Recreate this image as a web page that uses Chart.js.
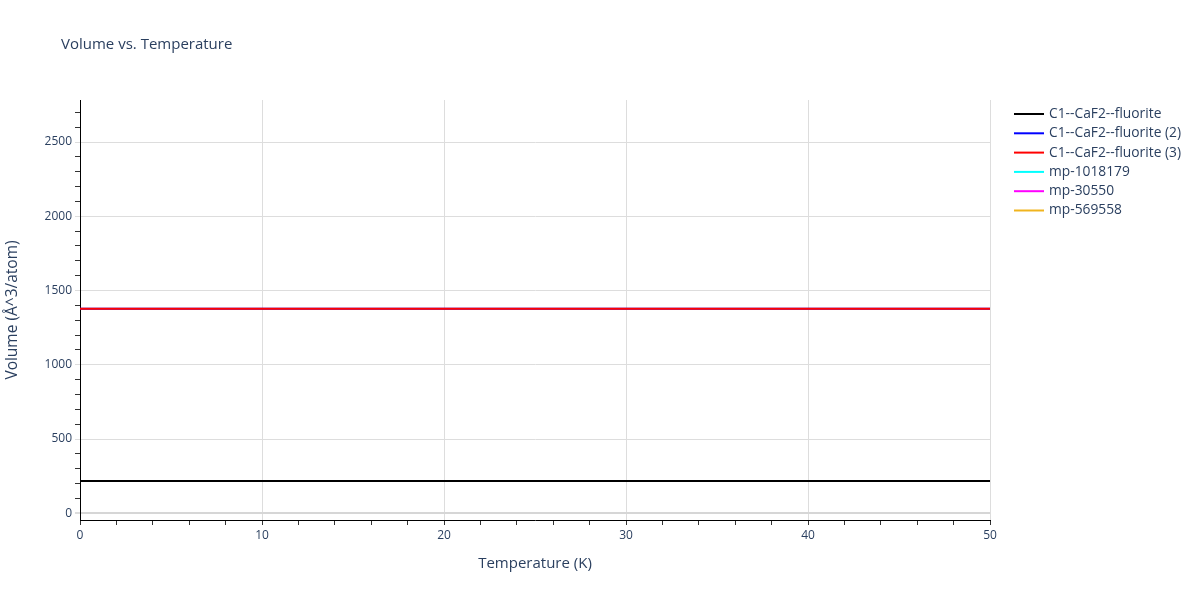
<!DOCTYPE html>
<html>
<head>
<meta charset="utf-8">
<script src="https://cdn.jsdelivr.net/npm/chart.js@4/dist/chart.umd.min.js"></script>
<style>
  body { margin: 0; background: #fff; }
  #wrap { width: 1200px; height: 600px; }
</style>
</head>
<body>
<div id="wrap"><canvas id="myChart" width="1200" height="600"></canvas></div>
<script>
const ctx = document.getElementById('myChart')

// temperatures (K) and volumes (Å^3/atom)
const temperaturas = [0, 5, 10, 15, 20, 25, 30, 35, 40, 45, 50]
const fluorita = [218, 218, 218, 218, 218, 218, 218, 218, 218, 218, 218]
const fluorita2 = [1377, 1377, 1377, 1377, 1377, 1377, 1377, 1377, 1377, 1377, 1377]
const fluorita3 = [1377, 1377, 1377, 1377, 1377, 1377, 1377, 1377, 1377, 1377, 1377]
const mp1018179 = []
const mp30550 = []
const mp569558 = []

const nombres = ['C1--CaF2--fluorite', 'C1--CaF2--fluorite (2)', 'C1--CaF2--fluorite (3)', 'mp-1018179', 'mp-30550', 'mp-569558']
const colores = ['#000000', '#0000ff', '#ff0000', '#00ffff', '#ff00ff', '#f0b41e']
const series = [fluorita, fluorita2, fluorita3, mp1018179, mp30550, mp569558]

const textColor = '#2a3f5f'
const fontFam = '"Open Sans", "Liberation Sans", sans-serif'

// later traces drawn on top, like the original
const datasets = series.map((vals, i) => ({
    label: nombres[i],
    data: vals.map((v, j) => ({ x: temperaturas[j], y: v })),
    borderColor: colores[i],
    backgroundColor: colores[i],
    borderWidth: 2,
    pointRadius: 0,
    tension: 0,
    order: series.length - i
}))

const titlePlugin = {
    id: 'titlePlugin',
    afterDraw(chart) {
        const c = chart.ctx
        c.save()
        c.font = '15px ' + fontFam
        c.fillStyle = textColor
        c.textBaseline = 'middle'
        c.textAlign = 'left'
        c.fillText('Volume vs. Temperature', 61, 45)
        c.restore()
    }
}

const legendPlugin = {
    id: 'legendPlugin',
    afterDraw(chart) {
        const c = chart.ctx
        c.save()
        c.font = '13.8px ' + fontFam
        c.textBaseline = 'middle'
        c.textAlign = 'left'
        chart.data.datasets.forEach((ds, i) => {
            const y = 114 + 19.3 * i
            c.strokeStyle = ds.borderColor
            c.lineWidth = 2
            c.beginPath()
            c.moveTo(1014, y)
            c.lineTo(1044, y)
            c.stroke()
            c.fillStyle = textColor
            c.fillText(ds.label, 1049, y)
        })
        c.restore()
    }
}

const myChart = new Chart(ctx, {
    type: 'line',
    data: { datasets: datasets },
    options: {
        responsive: false,
        animation: false,
        layout: { padding: { top: 100, right: 210, bottom: 0, left: 0 } },
        plugins: {
            legend: { display: false },
            title: { display: false },
            tooltip: { enabled: false }
        },
        scales: {
            x: {
                type: 'linear',
                min: 0,
                max: 50,
                afterFit: (s) => { s.height = 80 },
                afterBuildTicks: (s) => {
                    const t = []
                    for (let v = 0; v <= 50; v += 2) t.push({ value: v })
                    s.ticks = t
                },
                border: { color: '#000', width: 1 },
                grid: {
                    color: (c) => (c.tick && c.tick.value % 10 === 0 && c.tick.value !== 0) ? '#dddddd' : 'rgba(0,0,0,0)',
                    tickColor: '#333',
                    tickLength: 5,
                    drawTicks: true
                },
                ticks: {
                    autoSkip: false,
                    maxRotation: 0,
                    color: textColor,
                    font: { family: fontFam, size: 12 },
                    padding: 3,
                    callback: (v) => v % 10 === 0 ? String(v) : ''
                },
                title: {
                    display: true,
                    text: 'Temperature (K)',
                    color: textColor,
                    font: { family: fontFam, size: 15 },
                    padding: { top: 0, bottom: 27 }
                }
            },
            y: {
                min: -45,
                max: 2783,
                afterFit: (s) => { s.width = 80 },
                afterBuildTicks: (s) => {
                    const t = []
                    for (let v = 0; v <= 2700; v += 100) t.push({ value: v })
                    s.ticks = t
                },
                border: { color: '#000', width: 1 },
                grid: {
                    color: (c) => {
                        if (!c.tick) return 'rgba(0,0,0,0)'
                        if (c.tick.value === 0) return '#d6d6d6'
                        return c.tick.value % 500 === 0 ? '#dddddd' : 'rgba(0,0,0,0)'
                    },
                    lineWidth: (c) => (c.tick && c.tick.value === 0) ? 2 : 1,
                    tickColor: (c) => (c.tick && c.tick.value % 500 === 0) ? '#dddddd' : '#333',
                    tickLength: 5,
                    drawTicks: true
                },
                ticks: {
                    autoSkip: false,
                    color: textColor,
                    font: { family: fontFam, size: 12 },
                    padding: 3,
                    callback: (v) => v % 500 === 0 ? String(v) : ''
                },
                title: {
                    display: true,
                    text: 'Volume (Å^3/atom)',
                    color: textColor,
                    font: { family: fontFam, size: 15.5 },
                    padding: { top: 3, bottom: 0 }
                }
            }
        }
    },
    plugins: [titlePlugin, legendPlugin]
});
</script>
</body>
</html>
